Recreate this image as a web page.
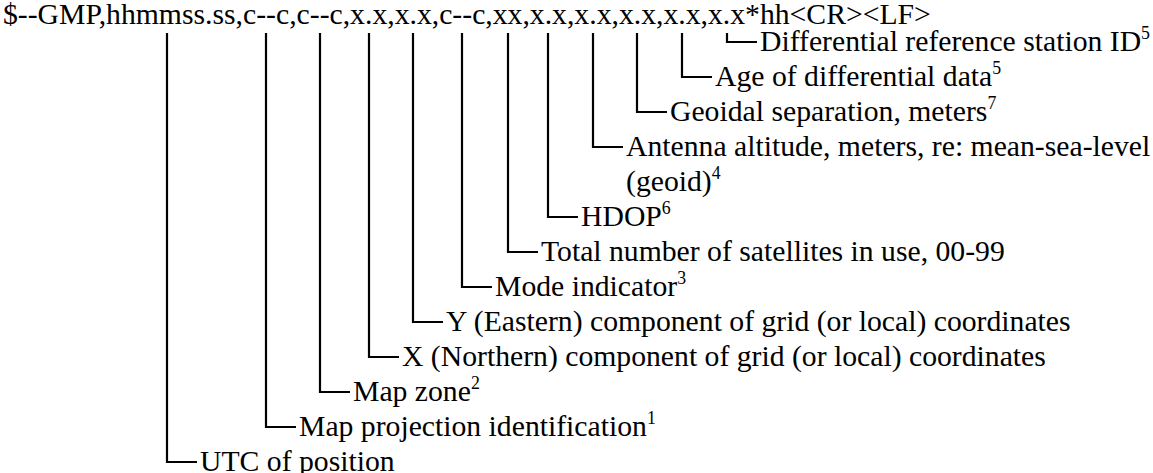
<!DOCTYPE html>
<html>
<head>
<meta charset="utf-8">
<script src="https://cdn.jsdelivr.net/npm/d3@7"></script>
<style>
  html, body { margin: 0; padding: 0; background: #fff; }
</style>
</head>
<body>
<div id="graph"></div>
<script>
// sentence layout, fields are comma separated after the talker/id
const sentence = "$--GMP,hhmmss.ss,c--c,c--c,x.x,x.x,c--c,xx,x.x,x.x,x.x,x.x,x.x*hh<CR><LF>";
const fieldLabels = [
  "UTC of position",
  "Map projection identification",
  "Map zone",
  "X (Northern) component of grid (or local) coordinates",
  "Y (Eastern) component of grid (or local) coordinates",
  "Mode indicator",
  "Total number of satellites in use, 00-99",
  "HDOP",
  "Antenna altitude, meters, re: mean-sea-level",
  "Geoidal separation, meters",
  "Age of differential data",
  "Differential reference station ID"
];
const fieldNotes = ["", "1", "2", "", "", "3", "", "6", "", "7", "5", "5"];
const fieldRows = [13, 12, 11, 10, 9, 8, 7, 6, 4, 3, 2, 1];
// second line for the antenna label
const extraLine = { field: 8, text: "(geoid)", note: "4", row: 5 };

const FONT = '"Liberation Serif"';

const config = {
  width: 1153,
  height: 473,
  left: 3,
  top: 24,
  headWidth: 928,
  firstRow: 51,
  rowGap: 35,
  tick: 30,
  gap: 3,
};

const svg = d3
  .select("#graph")
  .append("svg")
  .attr("width", config.width)
  .attr("height", config.height);

const head = svg
  .append("text")
  .attr("x", config.left)
  .attr("y", config.top)
  .style("font-family", FONT)
  .style("font-size", "28px")
  .text(sentence);

// size the header so it spans like the original
const node = head.node();
const fs = (28 * config.headWidth) / node.getComputedTextLength();
head.style("font-size", fs + "px");

// char ranges of each data field
let fields = [];
let pos = sentence.indexOf(",") + 1;
for (let i = 0; i < fieldLabels.length; i++) {
  let end = sentence.indexOf(",", pos);
  if (end < 0) end = sentence.indexOf("*", pos);
  fields.push([pos, end]);
  pos = end + 1;
}

const fieldX = fields.map(([a, b]) => {
  const x0 = node.getStartPositionOfChar(a).x;
  const w = node.getSubStringLength(a, b - a);
  return Math.round(x0 + w / 2);
});
fieldX[0] -= 4; // utc leader sits a bit left of centre

const y = d3
  .scaleLinear()
  .domain([1, 13])
  .range([config.firstRow, config.firstRow + 12 * config.rowGap]);

const lineY = (r) => Math.round(y(r) - fs * 0.3);

const leaders = svg
  .append("g")
  .attr("fill", "none")
  .attr("stroke", "#000")
  .attr("stroke-width", 2.2);

function addLabel(x, row, label, note) {
  const t = svg
    .append("text")
    .attr("x", x)
    .attr("y", y(row))
    .style("font-family", FONT)
    .style("font-size", fs + "px")
    .text(label);
  if (note) {
    t.append("tspan")
      .attr("dy", -fs * 0.42)
      .style("font-size", fs * 0.6 + "px")
      .text(note);
  }
}

fieldLabels.forEach((label, i) => {
  const x = fieldX[i];
  const ly = lineY(fieldRows[i]);
  leaders
    .append("path")
    .attr("d", `M${x},${config.top + 9}V${ly}H${x + config.tick}`);
  addLabel(x + config.tick + config.gap, fieldRows[i], label, fieldNotes[i]);
});

addLabel(
  fieldX[extraLine.field] + config.tick + config.gap,
  extraLine.row,
  extraLine.text,
  extraLine.note
);
</script>
</body>
</html>
